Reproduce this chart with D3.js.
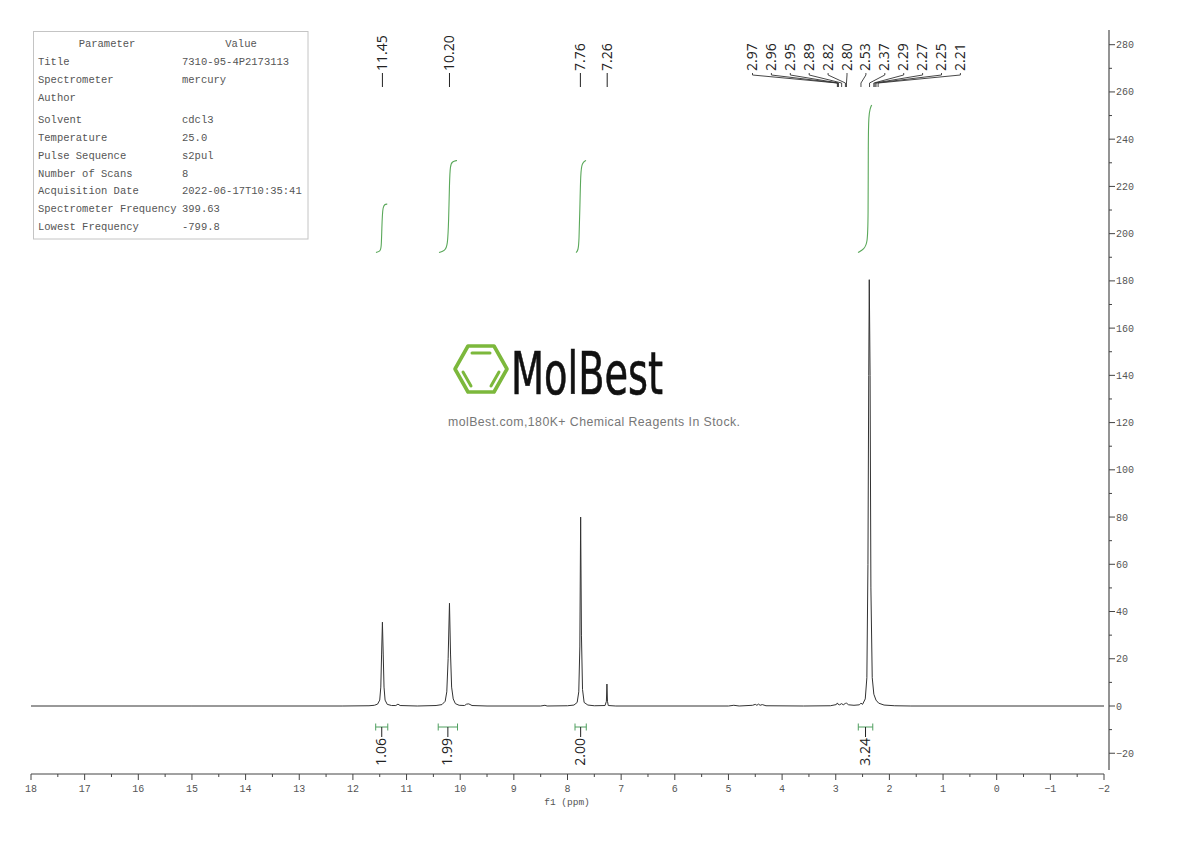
<!DOCTYPE html>
<html>
<head>
<meta charset="utf-8">
<script src="https://cdnjs.cloudflare.com/ajax/libs/d3/7.8.5/d3.min.js"></script>
<style type='text/css'>
body { margin: 0; background: #fff; }
svg { display: block; }
text.mono { font-family: "Liberation Mono", monospace; fill: #555; }
text.peak { font-family: "Open Sans", "Noto Sans", sans-serif; font-size: 14px; fill: #222; }
</style>
</head>
<body>
<div id="plot1"></div>
<script type='text/javascript'>
// [ppm, intensity]
var spectrum = [
  [18,0],[15,0],[12.2,0],[11.7,0.1],[11.6,0.3],[11.54,0.8],[11.5,2.5],[11.48,8],[11.465,22],[11.45,35.5],[11.435,22],[11.42,8],[11.4,2.5],
  [11.36,0.7],[11.28,0.2],[11.2,0.2],[11.16,0.8],[11.12,0.2],[10.8,0],[10.45,0.2],[10.34,0.6],[10.28,2],[10.25,6],[10.225,20],[10.2,43.5],
  [10.18,22],[10.16,8],[10.13,3],[10.09,1],[10.02,0.3],[9.92,0.2],[9.88,0.8],[9.84,0.9],[9.78,0.2],[9.5,0],[8.5,0],[8.42,0.3],[8.38,0],
  [8,0.1],[7.88,0.4],[7.82,1.5],[7.79,6],[7.77,25],[7.755,80],[7.74,30],[7.72,7],[7.69,1.5],[7.62,0.4],[7.5,0.1],[7.3,0.2],[7.275,2],
  [7.265,9.3],[7.255,2],[7.24,0.2],[7.1,0],[5,0],[4.9,0.3],[4.8,0],[4.55,0.3],[4.5,0.7],[4.47,0.3],[4.44,0.8],[4.41,0.3],[4.37,0.6],[4.3,0.1],
  [3.6,0],[3.1,0.1],[2.99,0.6],[2.97,1.3],[2.955,0.7],[2.93,0.5],[2.89,1],[2.86,0.5],[2.82,1.1],[2.8,1.2],[2.76,0.5],[2.66,0.3],[2.56,0.5],
  [2.53,1.2],[2.5,0.7],[2.45,3],[2.42,12],[2.4,60],[2.385,140],[2.375,180.5],[2.36,140],[2.345,50],[2.32,12],[2.29,5],[2.25,2.5],[2.2,1.2],
  [2.1,0.4],[1.9,0.1],[1.6,0],[-2,0]
];
var integralCurves = [
  [[11.57,192],[11.49,192.6],[11.47,194],[11.46,203],[11.45,208],[11.44,211],[11.41,212.5],[11.36,212.5]],
  [[10.395,192],[10.283,192.8],[10.235,195],[10.215,205],[10.2,222],[10.185,229],[10.15,230.5],[10.06,231]],
  [[7.84,192],[7.80,193],[7.785,197],[7.77,210],[7.755,226],[7.73,230],[7.655,231]],
  [[2.585,192],[2.47,193.5],[2.41,196],[2.395,205],[2.395,240],[2.385,250],[2.36,253],[2.33,254.5]]
];
var integralRanges = [[11.575,11.35],[10.41,10.05],[7.86,7.65],[2.58,2.31]];
var integralLabels = ["1.06","1.99","2.00","3.24"];
var singlePeaks = [11.45,10.20,7.76,7.26];
var multipletPeaks = [2.97,2.96,2.95,2.89,2.82,2.80,2.53,2.37,2.29,2.27,2.25,2.21];
var paramNames = ["Title","Spectrometer","Author","Solvent","Temperature","Pulse Sequence","Number of Scans","Acquisition Date","Spectrometer Frequency","Lowest Frequency"];
var paramValues = ["7310-95-4P2173113","mercury","","cdcl3","25.0","s2pul","8","2022-06-17T10:35:41","399.63","-799.8"];
var xTicks = d3.range(18,-3,-1);
var xMinor = d3.range(17.5,-2,-1);
var yTicks = d3.range(-20,300,20);
var yMinor = d3.range(-10,290,20);

var width = 1190, height = 841;
var svg = d3.select("div#plot1").append("svg")
    .attr("width", width)
    .attr("height", height);

var xsc = d3.scaleLinear().domain([18,-2]).range([31,1104]),
    ysc = d3.scaleLinear().domain([0,280]).range([706,44.7]);

var line = d3.line()
    .x(function(d) { return xsc(d[0]); })
    .y(function(d) { return ysc(d[1]); });
var curve = d3.line()
    .x(function(d) { return xsc(d[0]); })
    .y(function(d) { return ysc(d[1]); })
    .curve(d3.curveBasis);

function tickLabel(txt) { return String(txt).replace("-", "\u2212"); }

// spectrum
svg.append("path").datum(spectrum)
    .attr("d", line)
    .attr("fill", "none")
    .attr("stroke", "#333")
    .attr("stroke-width", 1)
    .attr("stroke-linejoin", "round");

// integral curves
svg.selectAll("path.integral").data(integralCurves).enter().append("path")
    .attr("class", "integral")
    .attr("d", curve)
    .attr("fill", "none")
    .attr("stroke", "#5aa85a")
    .attr("stroke-width", 1.1);

// integral brackets under the baseline
var brackets = svg.selectAll("g.bracket").data(integralRanges).enter().append("g").attr("class", "bracket");
var bY = 727;
brackets.append("line")
    .attr("x1", function(d) { return xsc(d[0]); }).attr("x2", function(d) { return xsc(d[1]); })
    .attr("y1", bY).attr("y2", bY).attr("stroke", "#4f9f5f").attr("stroke-width", 1);
[0,1].forEach(function(i) {
  brackets.append("line")
    .attr("x1", function(d) { return xsc(d[i]); }).attr("x2", function(d) { return xsc(d[i]); })
    .attr("y1", bY-3.5).attr("y2", bY+3.5).attr("stroke", "#4f9f5f").attr("stroke-width", 1);
});
brackets.append("line")
    .attr("x1", function(d) { return xsc((d[0]+d[1])/2); }).attr("x2", function(d) { return xsc((d[0]+d[1])/2); })
    .attr("y1", bY).attr("y2", bY+10).attr("stroke", "#222").attr("stroke-width", 1);
brackets.append("text")
    .attr("class", "peak")
    .attr("text-anchor", "end")
    .attr("dominant-baseline", "central")
    .attr("transform", function(d) { return "translate(" + (xsc((d[0]+d[1])/2)-1) + "," + (bY+11) + ") rotate(-90)"; })
    .text(function(d,i) { return integralLabels[i]; });

// peak labels
var singles = svg.selectAll("g.single").data(singlePeaks).enter().append("g").attr("class", "single");
singles.append("line")
    .attr("x1", function(d) { return xsc(d); }).attr("x2", function(d) { return xsc(d); })
    .attr("y1", 73).attr("y2", 87).attr("stroke", "#222").attr("stroke-width", 1);
singles.append("text")
    .attr("class", "peak")
    .attr("dominant-baseline", "central")
    .attr("transform", function(d) { return "translate(" + (xsc(d)-1) + ",71) rotate(-90)"; })
    .text(function(d) { return d.toFixed(2); });

var multi = svg.selectAll("g.multi").data(multipletPeaks).enter().append("g").attr("class", "multi");
function labelX(i) { return 752.5 + i*18.9; }
multi.append("path")
    .attr("d", function(d,i) {
      return "M" + labelX(i) + ",73V75L" + xsc(d) + ",83V87";
    })
    .attr("fill", "none").attr("stroke", "#333").attr("stroke-width", 0.9);
multi.append("text")
    .attr("class", "peak")
    .attr("dominant-baseline", "central")
    .attr("transform", function(d,i) { return "translate(" + (labelX(i)-1) + ",71) rotate(-90)"; })
    .text(function(d) { return d.toFixed(2); });

// bottom axis
var xAxisY = 774;
var xAxis = svg.append("g");
xAxis.append("line").attr("x1", xsc(18)).attr("x2", xsc(-2)).attr("y1", xAxisY).attr("y2", xAxisY)
    .attr("stroke", "#444").attr("stroke-width", 1);
xAxis.selectAll("line.maj").data(xTicks).enter().append("line").attr("class", "maj")
    .attr("x1", xsc).attr("x2", xsc).attr("y1", xAxisY).attr("y2", xAxisY+6)
    .attr("stroke", "#444").attr("stroke-width", 1);
xAxis.selectAll("line.min").data(xMinor).enter().append("line").attr("class", "min")
    .attr("x1", xsc).attr("x2", xsc).attr("y1", xAxisY).attr("y2", xAxisY+3)
    .attr("stroke", "#444").attr("stroke-width", 1);
xAxis.selectAll("text").data(xTicks).enter().append("text")
    .attr("class", "mono")
    .attr("x", xsc).attr("y", 792)
    .attr("text-anchor", "middle")
    .attr("font-size", 10)
    .text(tickLabel);
svg.append("text").attr("class", "mono")
    .attr("x", 567).attr("y", 805)
    .attr("text-anchor", "middle")
    .attr("font-size", 9.5)
    .text("f1 (ppm)");

// right axis
var yAxisX = 1109;
var yAxis = svg.append("g");
yAxis.append("line").attr("x1", yAxisX).attr("x2", yAxisX).attr("y1", 30).attr("y2", 770)
    .attr("stroke", "#666").attr("stroke-width", 1.4);
yAxis.selectAll("line.maj").data(yTicks).enter().append("line").attr("class", "maj")
    .attr("x1", yAxisX).attr("x2", yAxisX+6).attr("y1", ysc).attr("y2", ysc)
    .attr("stroke", "#444").attr("stroke-width", 1);
yAxis.selectAll("line.min").data(yMinor).enter().append("line").attr("class", "min")
    .attr("x1", yAxisX).attr("x2", yAxisX+3).attr("y1", ysc).attr("y2", ysc)
    .attr("stroke", "#444").attr("stroke-width", 1);
yAxis.selectAll("text").data(yTicks).enter().append("text")
    .attr("class", "mono")
    .attr("x", 1116)
    .attr("y", function(d) { return ysc(d)+3.5; })
    .attr("font-size", 10)
    .text(tickLabel);

// parameter table
svg.append("rect").attr("x", 33.5).attr("y", 31.5).attr("width", 274.5).attr("height", 207.5)
    .attr("fill", "#fff").attr("stroke", "#c4c4c4").attr("stroke-width", 1);
var rowY = [61,79,97,119,137,155,173,190,208,226];
svg.append("text").attr("class", "mono").attr("x", 107).attr("y", 47).attr("text-anchor", "middle").attr("font-size", 10.5).text("Parameter");
svg.append("text").attr("class", "mono").attr("x", 241).attr("y", 47).attr("text-anchor", "middle").attr("font-size", 10.5).text("Value");
svg.selectAll("text.pname").data(paramNames).enter().append("text")
    .attr("class", "mono pname")
    .attr("x", 38).attr("y", function(d,i) { return rowY[i]+4; })
    .attr("font-size", 10.5)
    .text(function(d) { return d; });
svg.selectAll("text.pval").data(paramValues).enter().append("text")
    .attr("class", "mono pval")
    .attr("x", 182).attr("y", function(d,i) { return rowY[i]+4; })
    .attr("font-size", 10.5)
    .text(function(d) { return d; });

// watermark logo
var logo = svg.append("g");
logo.append("path")
    .attr("d", "M455,369L468,346H494L507,369L494,392H468Z")
    .attr("fill", "none").attr("stroke", "#7cb83c").attr("stroke-width", 3.6).attr("stroke-linejoin", "round");
logo.append("path")
    .attr("d", "M472,353H490M463,372L471,386M499,372L491,386")
    .attr("fill", "none").attr("stroke", "#7cb83c").attr("stroke-width", 3).attr("stroke-linecap", "round");
logo.append("text")
    .attr("x", 511).attr("y", 394)
    .attr("font-family", "'Liberation Sans Narrow', 'DejaVu Sans Condensed', sans-serif")
    .attr("font-size", 58)
    .attr("textLength", 152)
    .attr("lengthAdjust", "spacingAndGlyphs")
    .attr("fill", "#111")
    .attr("stroke", "#111")
    .attr("stroke-width", 0.6)
    .text("MolBest");
logo.append("text")
    .attr("x", 448).attr("y", 426)
    .attr("font-family", "'Liberation Sans', Arial, sans-serif")
    .attr("font-size", 12.3)
    .attr("fill", "#777")
    .attr("textLength", 292)
    .text("molBest.com,180K+ Chemical Reagents In Stock.");
</script>
</body>
</html>
